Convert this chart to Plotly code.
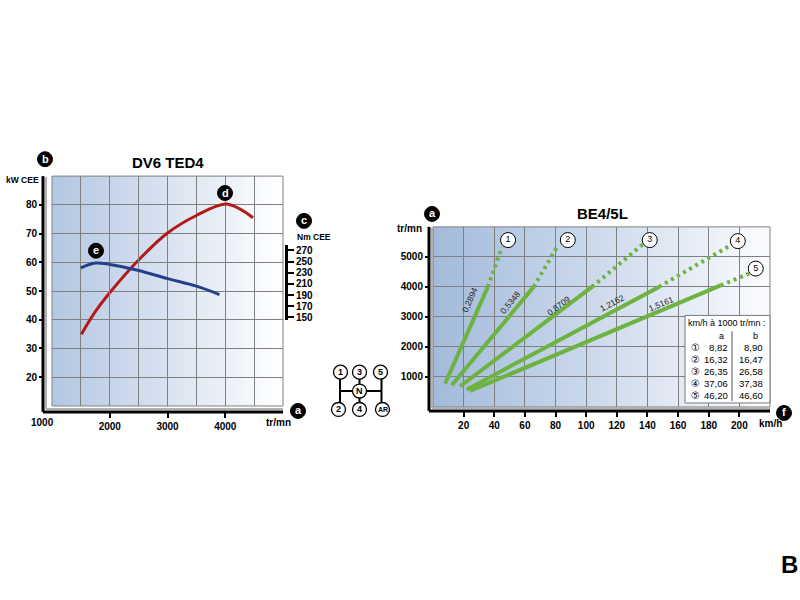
import base64
import plotly.graph_objects as go

# ---------------- data ----------------
power_rpm = [1510, 1750, 2000, 2500, 3000, 3500, 4000, 4250, 4480]
power_kw = [35, 42.8, 49.4, 60.8, 70.2, 76.3, 80.3, 78.6, 75.5]

torque_rpm = [1500, 1750, 2000, 2500, 3000, 3500, 3900]
torque_nm = [239, 247.5, 245, 234, 219.5, 206, 191]

left_xticks = [2000, 3000, 4000]
left_yticks = [20, 30, 40, 50, 60, 70, 80]
torque_ticks = [150, 170, 190, 210, 230, 250, 270]

gear_names = ["1", "2", "3", "4", "5"]
solid_kmh = [[7.9, 35.8], [12.2, 65.7], [17.7, 103.8], [22.0, 147.5], [24.2, 187.8]]
solid_rpm = [[780, 4000], [720, 4000], [690, 4000], [577, 4000], [533, 4050]]
dotted_kmh = [[35.8, 45.0], [65.7, 81.0], [103.8, 137.5], [147.5, 194.4], [187.8, 206.4]]
dotted_rpm = [[4000, 5333], [4000, 5333], [4000, 5443], [4000, 5390], [4050, 4444]]
label_kmh = [49, 88, 141.5, 199, 210.7]
label_rpm = [5560, 5560, 5560, 5525, 4610]

ratios = ["0,2894", "0,5348", "0,8709", "1,2162", "1,5161"]
ratio_kmh = [24.0, 50.0, 82.0, 117.0, 148.6]
ratio_rpm = [3560, 3480, 3350, 3460, 3430]
ratio_angle = [-66, -50, -37, -28, -23]

right_xticks = [20, 40, 60, 80, 100, 120, 140, 160, 180, 200]
right_yticks = [1000, 2000, 3000, 4000, 5000]

table_gears = ["①", "②", "③", "④", "⑤"]
table_a = ["8,82", "16,32", "26,35", "37,06", "46,20"]
table_b = ["8,90", "16,47", "26,58", "37,38", "46,60"]

# ---------------- helpers ----------------
W, H = 800, 600


def px(x):
    return x / W


def py(y):
    return 1 - y / H


FONT = "Liberation Sans"
GRID = "#808080"
RED = "#b31a1a"
BLUE = "#22418c"
GREEN = "#6cb33f"


def gradient_uri(c0, c1):
    svg = ('<svg xmlns="http://www.w3.org/2000/svg" width="200" height="20" viewBox="0 0 200 20" '
           'preserveAspectRatio="none"><defs><linearGradient id="g" x1="0" x2="1" y1="0" y2="0">'
           f'<stop offset="0" stop-color="{c0}"/><stop offset="1" stop-color="{c1}"/>'
           '</linearGradient></defs><rect width="200" height="20" fill="url(#g)"/></svg>')
    return "data:image/svg+xml;base64," + base64.b64encode(svg.encode()).decode()


fig = go.Figure()

# left chart traces
fig.add_trace(go.Scatter(x=power_rpm, y=power_kw, mode="lines", xaxis="x", yaxis="y",
                         line=dict(color=RED, width=3, shape="spline"), hoverinfo="skip"))
fig.add_trace(go.Scatter(x=torque_rpm, y=torque_nm, mode="lines", xaxis="x", yaxis="y2",
                         line=dict(color=BLUE, width=3, shape="spline"), hoverinfo="skip"))

# right chart traces
for i in range(5):
    fig.add_trace(go.Scatter(x=solid_kmh[i], y=solid_rpm[i], mode="lines", xaxis="x3", yaxis="y4",
                             line=dict(color=GREEN, width=4), hoverinfo="skip"))
    fig.add_trace(go.Scatter(x=dotted_kmh[i], y=dotted_rpm[i], mode="lines", xaxis="x3", yaxis="y4",
                             line=dict(color=GREEN, width=4, dash="3px,4px"), hoverinfo="skip"))
fig.add_trace(go.Scatter(x=label_kmh, y=label_rpm, mode="markers+text", xaxis="x3", yaxis="y4",
                         text=gear_names, textposition="middle center",
                         textfont=dict(family=FONT, size=9, color="black"),
                         marker=dict(size=15, color="white", line=dict(color="black", width=1)),
                         hoverinfo="skip", cliponaxis=False))

tickfont = dict(family=FONT, size=10, color="black", weight="bold")

fig.update_layout(
    width=W, height=H, margin=dict(l=0, r=0, t=0, b=0),
    paper_bgcolor="white", plot_bgcolor="rgba(0,0,0,0)", showlegend=False,
    xaxis=dict(domain=[px(52), px(283)], range=[1000, 5000], anchor="free", position=py(414),
               tickvals=left_xticks, ticks="outside", ticklen=5, tickwidth=2, tickcolor="black",
               tickfont=tickfont, showgrid=True, gridcolor=GRID, gridwidth=1,
               minor=dict(dtick=500, tick0=1000, showgrid=True, gridcolor=GRID, gridwidth=1, ticks=""),
               showline=False, zeroline=False, fixedrange=True),
    yaxis=dict(domain=[py(408), py(177)], range=[10, 90], anchor="free", position=px(43),
               tickvals=left_yticks, ticks="outside", ticklen=4, tickwidth=2, tickcolor="black",
               tickfont=tickfont, showgrid=True, gridcolor=GRID, gridwidth=1,
               minor=dict(dtick=10, tick0=10, showgrid=True, gridcolor=GRID, gridwidth=1, ticks=""),
               showline=False, zeroline=False, fixedrange=True),
    yaxis2=dict(domain=[py(322), py(246)], range=[144.7, 280.2], anchor="free", position=px(286),
                side="right", tickvals=torque_ticks, ticks="outside", ticklen=6, tickwidth=2,
                tickcolor="black", tickfont=tickfont, showgrid=False, showline=True,
                linecolor="black", linewidth=3, zeroline=False, fixedrange=True),
    xaxis3=dict(domain=[px(433), px(770)], range=[0, 220], anchor="free", position=py(413),
                tickvals=right_xticks, ticks="outside", ticklen=5, tickwidth=2, tickcolor="black",
                tickfont=tickfont, showgrid=True, gridcolor=GRID, gridwidth=1,
                minor=dict(dtick=20, tick0=0, showgrid=True, gridcolor=GRID, gridwidth=1, ticks=""),
                showline=False, zeroline=False, fixedrange=True),
    yaxis4=dict(domain=[py(409), py(228)], range=[0, 6000], anchor="free", position=px(429),
                tickvals=right_yticks, ticks="outside", ticklen=4, tickwidth=2, tickcolor="black",
                tickfont=tickfont, showgrid=True, gridcolor=GRID, gridwidth=1,
                minor=dict(dtick=1000, tick0=0, showgrid=True, gridcolor=GRID, gridwidth=1, ticks=""),
                showline=False, zeroline=False, fixedrange=True),
)

# gradient backgrounds (below gridlines)
fig.add_layout_image(dict(source=gradient_uri("#b3c7e2", "#ffffff"), xref="paper", yref="paper",
                          x=px(52), y=py(177), sizex=px(283) - px(52), sizey=py(177) - py(408),
                          sizing="stretch", layer="below", xanchor="left", yanchor="top"))
fig.add_layout_image(dict(source=gradient_uri("#a2badb", "#fbfcfe"), xref="paper", yref="paper",
                          x=px(433), y=py(228), sizex=px(770) - px(433), sizey=py(228) - py(409),
                          sizing="stretch", layer="below", xanchor="left", yanchor="top"))

shapes = []


def seg(x0, y0, x1, y1, color="black", width=3, layer="above"):
    shapes.append(dict(type="line", xref="paper", yref="paper", x0=px(x0), y0=py(y0),
                       x1=px(x1), y1=py(y1), line=dict(color=color, width=width), layer=layer))


def circ(cx, cy, r, fill, line="black", lw=1.2):
    shapes.append(dict(type="circle", xref="paper", yref="paper", x0=px(cx - r), y0=py(cy + r),
                       x1=px(cx + r), y1=py(cy - r), fillcolor=fill,
                       line=dict(color=line, width=lw), layer="above"))


# plot frames
for (x0, y0, x1, y1) in [(52, 177, 283, 408), (433, 228, 770, 409)]:
    shapes.append(dict(type="rect", xref="paper", yref="paper", x0=px(x0), y0=py(y1),
                       x1=px(x1), y1=py(y0), line=dict(color=GRID, width=1), layer="below"))

# axis lines (L shapes) with a soft shadow
seg(46, 178, 46, 411, "#b0b0b0", 2)
seg(46, 411, 283, 411, "#b0b0b0", 2)
seg(43, 177, 43, 414)
seg(43, 414, 283, 414)
seg(432, 229, 432, 410, "#b0b0b0", 2)
seg(432, 410, 770, 410, "#b0b0b0", 2)
seg(429, 228, 429, 413)
seg(429, 413, 770, 413)

# table box
shapes.append(dict(type="rect", xref="paper", yref="paper", x0=px(685), y0=py(405), x1=px(770),
                   y1=py(317), fillcolor="white", line=dict(color="#777777", width=1), layer="above"))
seg(732, 333, 732, 403, "#555555", 1)

# gearshift diagram
seg(340, 374, 340, 411, "black", 2)
seg(359.5, 374, 359.5, 411, "black", 2)
seg(381.5, 374, 381.5, 411, "black", 2)
seg(340, 393, 381.5, 393, "black", 2)
shift_pos = {"1": (340.5, 374), "3": (359.5, 374), "5": (380.5, 374), "N": (359.5, 393),
             "2": (338.5, 411.5), "4": (359.5, 411.5), "AR": (382.5, 411.5)}
for k, (cx, cy) in shift_pos.items():
    circ(cx, cy, 7, "white", "black", 1.3)

# black letter badges
badges = {"b": (45, 160), "c": (304, 222), "a": (298, 413), "d": (225, 194), "e": (96, 252),
          "a2": (432, 215), "f": (784, 415)}
for k, (cx, cy) in badges.items():
    circ(cx, cy, 7.5, "black", "black", 1)

fig.update_layout(shapes=shapes)

ann = []


def text(x, y, s, size=10, bold=True, color="black", xanchor="center", angle=0, family=FONT):
    ann.append(dict(x=px(x), y=py(y), xref="paper", yref="paper", text=s, showarrow=False,
                    xanchor=xanchor, yanchor="middle", textangle=angle,
                    font=dict(family=family, size=size, color=color,
                              weight="bold" if bold else "normal")))


text(168, 163, "DV6 TED4", 15)
text(602, 215, "BE4/5L", 15)
text(22, 181, "kW CEE", 8.5)
text(314, 238, "Nm CEE", 8.5)
text(278, 425, "tr/mn", 10)
text(410, 230, "tr/mn", 10)
text(770, 426, "km/h", 10)
text(42, 425, "1000", 10)
text(789, 567, "B", 24)

for k, (cx, cy) in badges.items():
    text(cx, cy - 0.5, k[0], 11, True, "white")
for k, (cx, cy) in shift_pos.items():
    text(cx, cy, k, 7 if k == "AR" else 9, True)

# table text
text(727, 325, "km/h à 1000 tr/mn :", 9, False)
text(721, 338, "a", 9, False)
text(755, 338, "b", 9, False)
for i in range(5):
    yy = 349.5 + i * 12
    text(695, yy, table_gears[i], 10, False, family="DejaVu Sans")
    text(729.5, yy, table_a[i], 9.5, False, xanchor="right")
    text(764.5, yy, table_b[i], 9.5, False, xanchor="right")

# ratio labels on the gear lines
for i in range(5):
    ann.append(dict(x=ratio_kmh[i], y=ratio_rpm[i], xref="x3", yref="y4", text=ratios[i],
                    showarrow=False, textangle=ratio_angle[i],
                    font=dict(family=FONT, size=8.5, color="#222222")))

fig.update_layout(annotations=ann)

fig.write_html("out.html", config={"displayModeBar": False},
               post_script="document.body.style.margin='0';")
